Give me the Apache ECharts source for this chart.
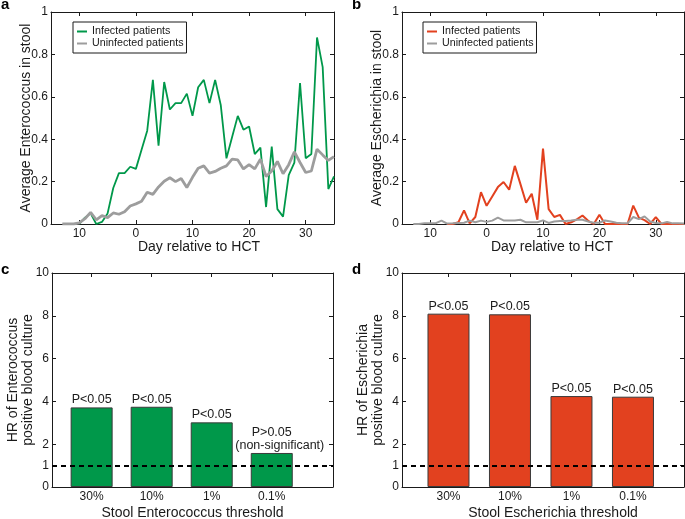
<!DOCTYPE html>
<html><head><meta charset="utf-8">
<script src="https://cdn.jsdelivr.net/npm/echarts@6/dist/echarts.min.js"></script>
<style>html,body{margin:0;padding:0;background:#fff}#c{width:685px;height:519px}</style>
</head><body><div id="c"></div>
<script>
// ---------- data ----------
const daysUninf = [-13,-12,-11,-10,-9,-8,-7,-6,-5,-4,-3,-2,-1,0,1,2,3,4,5,6,7,8,9,10,11,12,13,14,15,16,17,18,19,20,21,22,23,24,25,26,27,28,29,30,31,32,33,34,35];
const daysEntInf = [-10,-9,-8,-7,-6,-5,-4,-3,-2,-1,0,1,2,3,4,5,6,7,8,9,10,11,12,13,14,15,16,17,18,19,20,21,22,23,24,25,26,27,28,29,30,31,32,33,34,35];
const daysEscInf = [-7,-6,-5,-4,-3,-2,-1,0,1,2,3,4,5,6,7,8,9,10,11,12,13,14,15,16,17,18,19,20,21,22,23,24,25,26,27,28,29,30,31,32,33,34,35];

const entInfected = [0,0.03,0.05,0,0.01,0.05,0.17,0.24,0.24,0.27,0.26,0.35,0.44,0.68,0.37,0.67,0.54,0.57,0.57,0.615,0.51,0.645,0.68,0.57,0.68,0.56,0.31,0.41,0.51,0.445,0.46,0.33,0.36,0.08,0.365,0.07,0.035,0.23,0.29,0.665,0.31,0.33,0.88,0.74,0.165,0.225];
const entUninfected = [0,0,0,0.005,0.025,0.055,0.02,0.04,0.03,0.052,0.046,0.058,0.085,0.095,0.107,0.15,0.14,0.175,0.202,0.218,0.2,0.215,0.172,0.22,0.263,0.274,0.24,0.248,0.263,0.274,0.306,0.302,0.26,0.28,0.26,0.306,0.224,0.25,0.295,0.237,0.28,0.34,0.29,0.243,0.25,0.353,0.326,0.3,0.318];
const escInfected = [0,0,0.008,0.064,0.003,0.033,0.15,0.086,0.13,0.174,0.198,0.162,0.274,0.188,0.1,0.143,0.02,0.356,0.07,0.033,0.043,0,0.008,0.022,0.04,0.015,0,0.044,0,0,0,0,0,0.087,0.03,0.018,0,0.033,0,0,0,0,0];
const escUninfected = [0,0,0.004,0.004,0.004,0.016,0.002,0.003,0.005,0.006,0.016,0.008,0.016,0.01,0.016,0.03,0.017,0.017,0.017,0.02,0.008,0.008,0.008,0.017,0.005,0.012,0.014,0.014,0.016,0.02,0.02,0.012,0.006,0.006,0.017,0.012,0.006,0.003,0.003,0.033,0.023,0.036,0.012,0.005,0.003,0.009,0.003,0.003,0.002];

const dayTicks = [-10,0,10,20,30];
const dayTickLabels = ['10','0','10','20','30'];

const thresholds = ['30%','10%','1%','0.1%'];
const thresholdPos = [1,2,3,4];
const hrEnterococcus = [3.72,3.75,3.02,1.59];
const hrEscherichia = [8.1,8.07,4.25,4.22];
const pLabelsEnt = ['P<0.05','P<0.05','P<0.05','P>0.05\n(non-significant)'];
const pLabelsEsc = ['P<0.05','P<0.05','P<0.05','P<0.05'];
const hrTicks = [0,1,2,4,6,8,10];
const hrReference = 1;

// ---------- style ----------
const INK = '#1a1a1a';
const FONT = 'Liberation Sans, Arial, sans-serif';
const GREEN = '#00984a';
const RED = '#e2411f';
const GRAY = '#9d9d9d';
const BAR_EDGE = '#3a3a3a';

const grids = [
  {left:51, top:12, width:283, height:212, outerBoundsMode:'none'},
  {left:402, top:12, width:282, height:212, outerBoundsMode:'none'},
  {left:52, top:273, width:281, height:214, outerBoundsMode:'none'},
  {left:402, top:273, width:282, height:214, outerBoundsMode:'none'}
];

const pairs = (xs, ys) => xs.map((x,i)=>[x, ys[i]]);

function xAx(gi, pos, min, max, ticks, labels, name, gap, shift) {
  const bottom = pos === 'bottom';
  return {
    type:'value', gridIndex:gi, position:pos, min:min, max:max,
    axisLine:{show:true, onZero:false, lineStyle:{color:INK, width:1}},
    axisTick:{show:true, inside:true, length:4, customValues:ticks, lineStyle:{color:INK}},
    axisLabel:{show:bottom, customValues:ticks, margin:4, fontSize:12, color:INK, fontFamily:FONT,
      formatter:(v)=>{const i = ticks.indexOf(v); return i>=0 ? labels[i] : '';}},
    splitLine:{show:false},
    name: bottom ? name : '', nameLocation:'middle', nameGap:gap || 0, nameMoveOverlap:false,
    nameTextStyle:{fontSize:14, color:INK, fontFamily:FONT, padding:[0,0,0,shift||0]}
  };
}
function yAx(gi, pos, min, max, ticks, labels, name, gap) {
  const left = pos === 'left';
  return {
    type:'value', gridIndex:gi, position:pos, min:min, max:max,
    axisLine:{show:true, onZero:false, lineStyle:{color:INK, width:1}},
    axisTick:{show:true, inside:true, length:4, customValues:ticks, lineStyle:{color:INK}},
    axisLabel:{show:left, customValues:ticks, margin:3, fontSize:12, color:INK, fontFamily:FONT,
      formatter:(v)=>{const i = ticks.indexOf(v); return i>=0 ? labels[i] : '';}},
    splitLine:{show:false},
    name: left ? name : '', nameLocation:'middle', nameGap:gap || 0, nameMoveOverlap:false,
    nameTextStyle:{fontSize:14, color:INK, fontFamily:FONT, lineHeight:15}
  };
}

const fracTicks = [0,0.2,0.4,0.6,0.8,1];
const fracLabels = ['0','0.2','0.4','0.6','0.8','1'];
const hrLabels = hrTicks.map(String);

const legendBase = {orient:'vertical', icon:'rect', itemWidth:10, itemHeight:2, itemGap:1,
  padding:[4,3,4,4], borderColor:INK, borderWidth:1, backgroundColor:'#fff',
  textStyle:{fontSize:10.7, color:INK, fontFamily:FONT}};

const option = {
  animation:false,
  backgroundColor:'#fff',
  grid: grids,
  xAxis: [
    xAx(0,'bottom',-15,35,dayTicks,dayTickLabels,'Day relative to HCT',16,13),
    xAx(0,'top',-15,35,dayTicks,dayTickLabels,''),
    xAx(1,'bottom',-15,35,dayTicks,dayTickLabels,'Day relative to HCT',16,18),
    xAx(1,'top',-15,35,dayTicks,dayTickLabels,''),
    xAx(2,'bottom',0.34,5.02,thresholdPos,thresholds,'Stool Enterococcus threshold',19,0),
    xAx(2,'top',0.34,5.02,thresholdPos,thresholds,''),
    xAx(3,'bottom',0.244,4.83,thresholdPos,thresholds,'Stool Escherichia threshold',19,20),
    xAx(3,'top',0.244,4.83,thresholdPos,thresholds,'')
  ],
  yAxis: [
    yAx(0,'left',0,1,fracTicks,fracLabels,'Average Enterococcus in stool',17),
    yAx(0,'right',0,1,fracTicks,fracLabels,''),
    yAx(1,'left',0,1,fracTicks,fracLabels,'Average Escherichia in stool',17),
    yAx(1,'right',0,1,fracTicks,fracLabels,''),
    yAx(2,'left',0,10,hrTicks,hrLabels,'HR of Enterococcus\npositive blood culture',16),
    yAx(2,'right',0,10,hrTicks,hrLabels,''),
    yAx(3,'left',0,10,hrTicks,hrLabels,'HR of Escherichia\npositive blood culture',16),
    yAx(3,'right',0,10,hrTicks,hrLabels,'')
  ],
  legend: [
    Object.assign({left:73, top:22,
     data:[{name:'Infected patients', itemStyle:{color:GREEN}},{name:'Uninfected patients', itemStyle:{color:GRAY}}]}, legendBase),
    Object.assign({left:423, top:22,
     data:[{name:'Infected patients', itemStyle:{color:RED}},{name:'Uninfected patients', itemStyle:{color:GRAY}}]}, legendBase)
  ],
  graphic: [
    {type:'text', left:1, top:-3, style:{text:'a', font:'bold 15px '+FONT, fill:'#000'}},
    {type:'text', left:352, top:-3, style:{text:'b', font:'bold 15px '+FONT, fill:'#000'}},
    {type:'text', left:1, top:262, style:{text:'c', font:'bold 15px '+FONT, fill:'#000'}},
    {type:'text', left:352, top:262, style:{text:'d', font:'bold 15px '+FONT, fill:'#000'}}
  ],
  series: [
    {type:'line', name:'Infected patients', xAxisIndex:0, yAxisIndex:0, data:pairs(daysEntInf, entInfected),
     symbol:'none', lineStyle:{color:GREEN, width:1.8}, itemStyle:{color:GREEN}},
    {type:'line', name:'Uninfected patients', xAxisIndex:0, yAxisIndex:0, data:pairs(daysUninf, entUninfected),
     symbol:'none', lineStyle:{color:GRAY, width:2.8}, itemStyle:{color:GRAY}},
    {type:'line', name:'Infected patients', xAxisIndex:2, yAxisIndex:2, data:pairs(daysEscInf, escInfected),
     symbol:'none', lineStyle:{color:RED, width:2}, itemStyle:{color:RED}},
    {type:'line', name:'Uninfected patients', xAxisIndex:2, yAxisIndex:2, data:pairs(daysUninf, escUninfected),
     symbol:'none', lineStyle:{color:GRAY, width:2}, itemStyle:{color:GRAY}},
    {type:'bar', xAxisIndex:4, yAxisIndex:4, data:pairs(thresholdPos, hrEnterococcus), barWidth:42,
     itemStyle:{color:GREEN, borderColor:BAR_EDGE, borderWidth:1},
     label:{show:true, position:'top', distance:1, fontSize:12.5, lineHeight:13, color:INK, fontFamily:FONT,
       formatter:(p)=>{const t = pLabelsEnt[p.dataIndex].split('\n');
         return t.length > 1 ? '{a|'+t[0]+'}\n{b|'+t[1]+'}' : '{a|'+t[0]+'}';},
       rich:{a:{fontSize:12.5, lineHeight:13, color:INK, fontFamily:FONT},
             b:{fontSize:12.5, lineHeight:13, color:INK, fontFamily:FONT, padding:[0,0,0,16]}}},
     markLine:{silent:true, symbol:'none', label:{show:false}, data:[{yAxis:hrReference}],
       lineStyle:{color:'#000', type:[5,4], width:1.8}}},
    {type:'bar', xAxisIndex:6, yAxisIndex:6, data:pairs(thresholdPos, hrEscherichia), barWidth:42,
     itemStyle:{color:RED, borderColor:BAR_EDGE, borderWidth:1},
     label:{show:true, position:'top', distance:1, fontSize:12.5, lineHeight:13, color:INK, fontFamily:FONT,
       formatter:(p)=>pLabelsEsc[p.dataIndex]},
     markLine:{silent:true, symbol:'none', label:{show:false}, data:[{yAxis:hrReference}],
       lineStyle:{color:'#000', type:[5,4], width:1.8}}}
  ]
};
const chart = echarts.init(document.getElementById('c'), null, {renderer:'canvas'});
chart.setOption(option);
</script>
</body></html>
